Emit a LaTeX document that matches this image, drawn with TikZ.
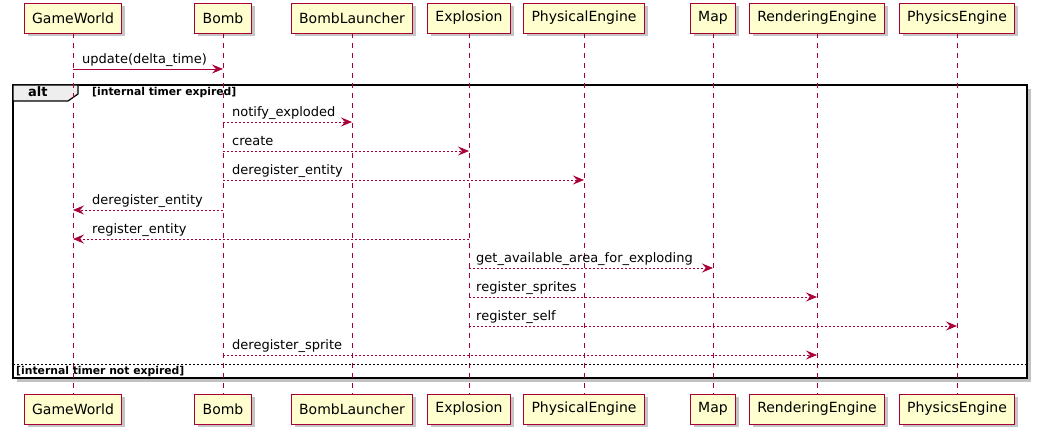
\documentclass[tikz,border=0pt]{standalone}
\usepackage{fontspec}
\setmainfont{DejaVu Sans}
\usetikzlibrary{arrows.meta,shadows}
\definecolor{plred}{HTML}{A80036}
\definecolor{plfill}{HTML}{FEFECE}
\definecolor{pltab}{HTML}{EEEEEE}
\tikzset{
  part/.style={draw=plred, fill=plfill, line width=0.9pt, inner xsep=8pt, minimum height=30pt,
    font=\fontsize{14}{16}\selectfont, anchor=center,
    drop shadow={shadow xshift=3.5pt, shadow yshift=-3.5pt, fill=black!45, opacity=0.5}},
  life/.style={draw=plred, line width=0.8pt, dash pattern=on 5pt off 5pt},
  msg/.style={draw=plred, line width=0.8pt, -{Stealth[length=11pt,width=9pt,inset=4pt]}},
  reply/.style={msg, dash pattern=on 2pt off 2pt},
  mtext/.style={font=\fontsize{13}{15}\selectfont, anchor=base west, inner sep=0pt},
  guard/.style={font=\bfseries\fontsize{10.8}{12}\selectfont, anchor=base west, inner sep=0pt},
}
\begin{document}
\begin{tikzpicture}[x=1pt,y=-1pt]
\useasboundingbox (0,0) rectangle (1037,435);
% frame shadow and frame
\fill[black!40, opacity=0.6] (17,89) rectangle (1031,382);
\draw[line width=1.5pt, fill=white] (13,85) rectangle (1027,378);
\draw[line width=1.2pt, fill=pltab] (13,85) -- (78,85) -- (78,94) -- (68,101) -- (13,101) -- cycle;
% participants
\foreach \n/\x/\t in {GW/73/GameWorld, BO/223/Bomb, BL/352/BombLauncher, EX/469/Explosion,
  PE/584/PhysicalEngine, MP/713/Map, RE/817/RenderingEngine, PS/957/PhysicsEngine}{
  \node[part] (t\n) at (\x,18) {\t};
  \node[part] (b\n) at (\x,409) {\t};
}
\foreach \n in {GW,BO,BL,EX,PE,MP,RE,PS}{
  \draw[life] (t\n.south) -- (b\n.north);
}
% frame texts
\node[font=\bfseries\fontsize{13}{15}\selectfont, anchor=base west, inner sep=0pt] (altlbl) at (28,97) {alt};
\node[guard] (g1) at (92,96) {[internal timer expired]};
\coordinate (sepL) at (13,364);
\coordinate (sepR) at (1027,364);
\draw[line width=0.7pt, dash pattern=on 2pt off 2pt] (sepL) -- (sepR);
\node[guard] (g2) at (16,375) {[internal timer not expired]};
% message rows
\foreach \i/\y in {1/69,2/122,3/151,4/180,5/210,6/239,7/268,8/297,9/326,10/355}{
  \coordinate (m\i) at (0,\y);
}
\draw[msg] (tGW |- m1) -- (tBO |- m1);
\node[mtext] (l1) at ([xshift=9pt,yshift=5pt]tGW |- m1) {update(delta\_time)};
\draw[reply] (tBO |- m2) -- (tBL |- m2);
\node[mtext] (l2) at ([xshift=9pt,yshift=5pt]tBO |- m2) {notify\_exploded};
\draw[reply] (tBO |- m3) -- (tEX |- m3);
\node[mtext] (l3) at ([xshift=9pt,yshift=5pt]tBO |- m3) {create};
\draw[reply] (tBO |- m4) -- (tPE |- m4);
\node[mtext] (l4) at ([xshift=9pt,yshift=5pt]tBO |- m4) {deregister\_entity};
\draw[reply] (tBO |- m5) -- (tGW |- m5);
\node[mtext] (l5) at ([xshift=19pt,yshift=5pt]tGW |- m5) {deregister\_entity};
\draw[reply] (tEX |- m6) -- (tGW |- m6);
\node[mtext] (l6) at ([xshift=19pt,yshift=5pt]tGW |- m6) {register\_entity};
\draw[reply] (tEX |- m7) -- (tMP |- m7);
\node[mtext] (l7) at ([xshift=7pt,yshift=5pt]tEX |- m7) {get\_available\_area\_for\_exploding};
\draw[reply] (tEX |- m8) -- (tRE |- m8);
\node[mtext] (l8) at ([xshift=7pt,yshift=5pt]tEX |- m8) {register\_sprites};
\draw[reply] (tEX |- m9) -- (tPS |- m9);
\node[mtext] (l9) at ([xshift=7pt,yshift=5pt]tEX |- m9) {register\_self};
\draw[reply] (tBO |- m10) -- (tRE |- m10);
\node[mtext] (l10) at ([xshift=9pt,yshift=5pt]tBO |- m10) {deregister\_sprite};
\end{tikzpicture}
\end{document}
